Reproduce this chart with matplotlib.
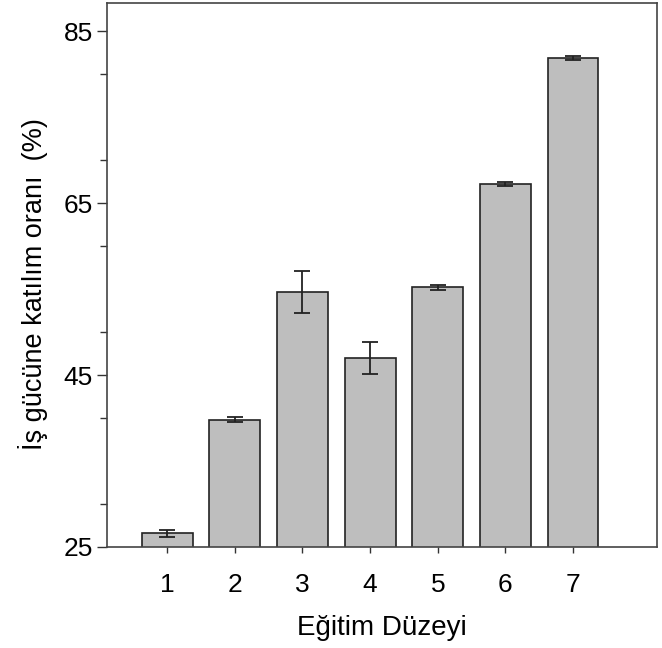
import matplotlib
matplotlib.use("Agg")
import matplotlib.pyplot as plt
from matplotlib.ticker import MultipleLocator

plt.rcParams['font.family'] = ['Liberation Sans', 'DejaVu Sans']

levels = [1, 2, 3, 4, 5, 6, 7]
values = [26.6, 39.8, 54.65, 46.95, 55.2, 67.2, 81.9]
errors = [0.4, 0.3, 2.45, 1.85, 0.3, 0.25, 0.25]
yticks = [25, 45, 65, 85]

fig = plt.figure(figsize=(6.62, 6.48), dpi=100)
ax = fig.add_axes([0.1616, 0.1559, 0.8308, 0.8395])

ax.bar(levels, values, width=0.75, color='#bebebe', edgecolor='#222222',
       linewidth=1.2, zorder=2)
ax.errorbar(levels, values, yerr=errors, fmt='none', ecolor='#222222',
            elinewidth=1.3, capsize=6, capthick=1.3, zorder=3)

ax.set_xlim(0.11, 8.24)
ax.set_ylim(25, 88.3)
ax.set_xticks(levels)
ax.set_yticks(yticks)
ax.yaxis.set_minor_locator(MultipleLocator(10))
ax.tick_params(axis='x', which='major', labelsize=19, direction='out',
               length=4.5, width=1, color='#333333', pad=14)
ax.tick_params(axis='y', which='major', labelsize=19, direction='out',
               length=7, width=1, color='#333333', pad=3)
ax.tick_params(axis='y', which='minor', direction='out', length=5, width=1,
               color='#333333')
for s in ax.spines.values():
    s.set_color('#444444')
    s.set_linewidth(1.2)

ax.set_xlabel('Eğitim Düzeyi', fontsize=20, labelpad=13)
ax.set_ylabel('İş gücüne katılım oranı  (%)', fontsize=19.5)
ax.yaxis.set_label_coords(-0.108, 0.483)

fig.savefig('out.png', dpi=100)
